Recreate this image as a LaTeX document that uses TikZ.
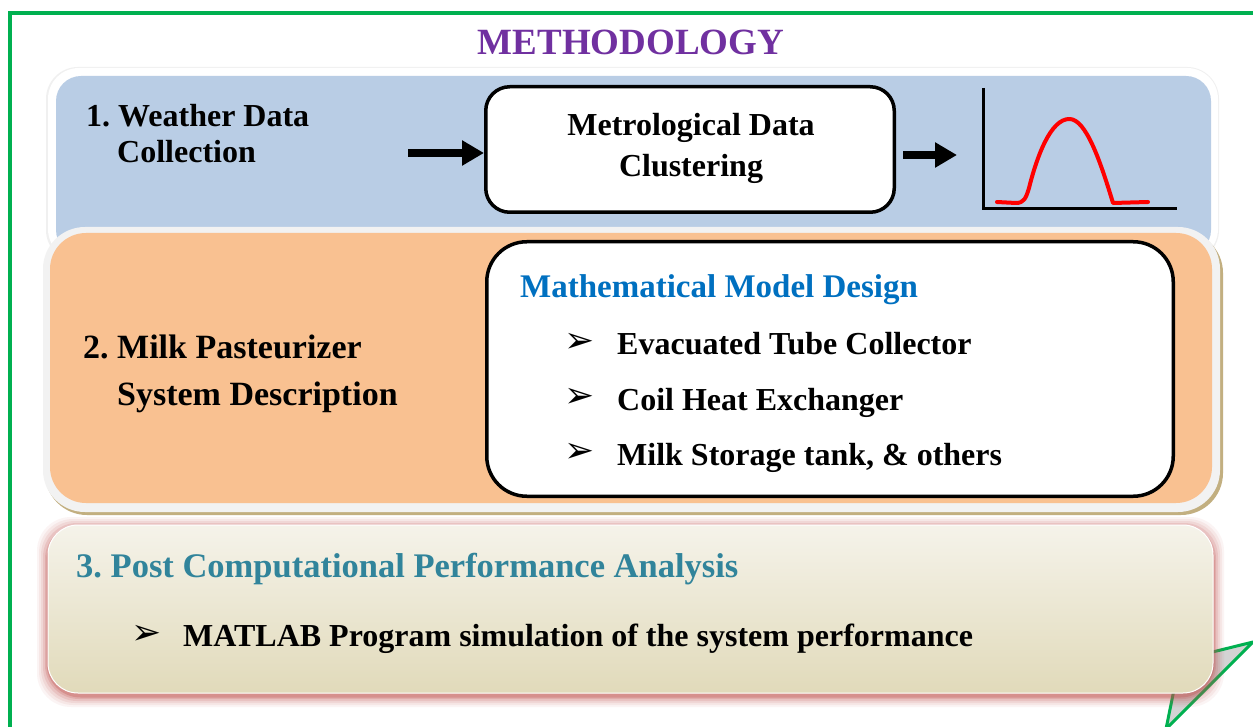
\documentclass[tikz,border=0pt]{standalone}
\usepackage{fontspec}
\setmainfont{Liberation Serif}
\newfontfamily\symfont{DejaVu Sans}
\usetikzlibrary{arrows.meta}
\definecolor{frameGreen}{HTML}{00B050}
\definecolor{titlePurple}{HTML}{7030A0}
\definecolor{panelBlue}{HTML}{B9CDE5}
\definecolor{panelOrange}{HTML}{F9C191}
\definecolor{rimGray}{HTML}{F2F2F2}
\definecolor{tanShadow}{HTML}{C2AF80}
\definecolor{modelBlue}{HTML}{0070C0}
\definecolor{tealTitle}{HTML}{31849B}
\definecolor{glowRed}{HTML}{C0504D}
\definecolor{creamTop}{HTML}{F5F3EA}
\definecolor{creamBot}{HTML}{E1DABA}
\definecolor{foldGray}{HTML}{D3D3D3}
\tikzset{
  txt/.style={anchor=base west, inner sep=0pt, font=\frenchspacing\bfseries\fontsize{32}{38}\selectfont},
  txtc/.style={anchor=base, inner sep=0pt, font=\frenchspacing\bfseries\fontsize{32}{38}\selectfont},
  bul/.style={inner sep=0pt, font=\symfont\fontsize{36}{36}\selectfont},
  whitebox/.style={draw=black, fill=white, line width=3.5pt},
  bigarrow/.style={line width=8pt, -{Triangle[width=24pt,length=22pt]}},
}
\begin{document}
\frenchspacing
\begin{tikzpicture}[x=1pt,y=-1pt]
\useasboundingbox (0,0) rectangle (1253,727);
\fill[white] (0,0) rectangle (1253,727);

% green frame with folded corner
\draw[frameGreen, line width=3.5pt] (10,740) -- (10,13) -- (1254.5,13) -- (1254.5,642);
\filldraw[fill=foldGray, draw=frameGreen, line width=3pt, line join=round]
  (1253,642) -- (1180,660) -- (1166,729) -- cycle;

% title
\node[anchor=base, inner sep=0pt, text=titlePurple, font=\bfseries\fontsize{37}{40}\selectfont] (title) at (631,55) {METHODOLOGY};

% panel 1
\fill[gray!12, rounded corners=32pt] (46,67) rectangle (1219,262);
\fill[white, rounded corners=31pt] (48,68) rectangle (1218,260);
\fill[panelBlue, rounded corners=25pt] (56,76) rectangle (1211,255);

% panel 2
\fill[tanShadow, rounded corners=42pt] (45,231) rectangle (1223,515);
\fill[rimGray, rounded corners=42pt] (43,227) rectangle (1220,512);
\fill[panelOrange, rounded corners=36pt] (50,233) rectangle (1212,503);

% panel 3 glow and box
\foreach \d/\op in {11/0.06,9/0.08,7/0.1,5/0.14,3/0.2,1.5/0.3}{
  \fill[glowRed, opacity=\op, rounded corners=34pt] (48-\d,525-\d+3) rectangle (1213+\d,693+\d+3);
}
\shade[top color=creamTop, bottom color=creamBot, rounded corners=30pt, draw=white, line width=1pt]
  (48,525) rectangle (1213,693);

% panel 1 content
\node[txt] (w1) at (86,127) {1. Weather Data};
\node[txt] (w2) at (117,163) {Collection};
\node[whitebox, rounded corners=24pt, minimum width=408.5pt, minimum height=125.5pt] (metro) at (690,149.5) {};
\node[txtc] (m1) at (691,136) {Metrological Data};
\node[txtc] (m2) at (691,177) {Clustering};
\coordinate (a1s) at (408,153);
\draw[bigarrow] (a1s) -- (a1s -| metro.west);
\coordinate (a2s) at (903,155);
\coordinate (a2e) at (957,155);
\draw[bigarrow] (a2s) -- (a2e);

% graph
\coordinate (ytop) at (983,88);
\coordinate (orig) at (983,208.5);
\coordinate (xend) at (1177,208.5);
\draw[black, line width=3pt] (ytop) -- (orig) -- (xend);
\draw[red, line width=4pt, line join=round, line cap=round]
  (997,202) -- (1016,203) .. controls (1024,203) and (1026,198) .. (1029,188)
  .. controls (1036,160) and (1050,118) .. (1070,119)
  .. controls (1086,120) and (1100,160) .. (1113,203) -- (1148,202);

% panel 2 content
\node[txt, font=\frenchspacing\bfseries\fontsize{34}{40}\selectfont] (p1) at (83,358) {2. Milk Pasteurizer};
\node[txt, font=\frenchspacing\bfseries\fontsize{34}{40}\selectfont] (p2) at (117,405) {System Description};
\node[whitebox, rounded corners=40pt, minimum width=686.5pt, minimum height=254.5pt] (model) at (830,369) {};
\node[txt, font=\frenchspacing\bfseries\fontsize{33}{40}\selectfont, text=modelBlue] (mt) at (520,298) {Mathematical Model Design};
\node[bul] (b1) at (580,343) {➢};
\node[bul] (b2) at (580,398) {➢};
\node[bul] (b3) at (580,453) {➢};
\node[txt] (i1) at (617,355) {Evacuated Tube Collector};
\node[txt] (i2) at (617,410) {Coil Heat Exchanger};
\node[txt] (i3) at (617,465) {Milk Storage tank, \& others};

% panel 3 content
\node[txt, font=\frenchspacing\bfseries\fontsize{34.5}{40}\selectfont, text=tealTitle] (pc) at (76,577) {3. Post Computational Performance Analysis};
\node[bul] (b4) at (147,635) {➢};
\node[txt] (ml) at (183,646) {MATLAB Program simulation of the system performance};
\end{tikzpicture}
\end{document}
